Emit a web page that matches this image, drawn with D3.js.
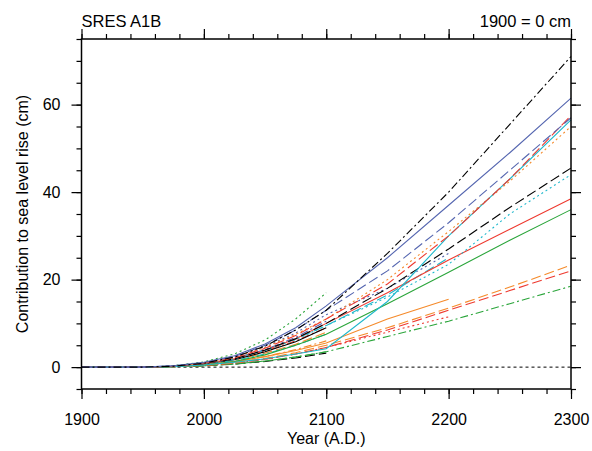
<!DOCTYPE html>
<html>
<head>
<meta charset="utf-8">
<script src="https://cdn.jsdelivr.net/npm/d3@7"></script>
<style>
  body { margin: 0; background: #fff; }
  text { font-family: "Liberation Sans", Arial, Helvetica, sans-serif; }
</style>
</head>
<body>
<div id="chart"></div>
<script>
var years = [1900, 1950, 1975, 2000, 2025, 2050, 2075, 2100, 2150, 2200, 2250, 2300];

// models running to 2300
var blackDashDot = [0, 0, 0.2, 0.9, 2.3, 4.8, 8.5, 13, 26, 40, 55.5, 71];
var blueSolid    = [0, 0, 0.3, 1.1, 2.6, 5.3, 9, 14, 25, 37, 49, 61.5];
var blueDash     = [0, 0, 0.3, 1, 2.4, 5, 8.5, 13, 22, 33, 45, 57];
var redDash      = [0, 0, 0.2, 0.9, 2.1, 4.3, 7.2, 11, 19, 30, 43, 57.5];
var cyanSolid    = [0, 0, 0.1, 0.5, 1.1, 1.9, 3, 4.2, 15, 30, 43, 56.5];
var orangeDot    = [0, 0, 0.2, 0.9, 2.2, 4.5, 7.5, 11, 20, 31, 42.5, 55];
var blackDash    = [0, 0, 0.2, 0.8, 1.9, 3.9, 6.5, 10, 18, 27, 36.5, 45.5];
var cyanDot      = [0, 0, 0.2, 0.8, 1.9, 3.8, 6.3, 9.5, 16, 23.5, 35, 44];
var redSolid     = [0, 0, 0.2, 0.8, 1.9, 3.8, 6.5, 10, 17, 24.5, 31.5, 38.5];
var greenSolid   = [0, 0, 0.1, 0.5, 1.3, 2.8, 5, 7.5, 14.5, 21.7, 29, 36];
var orangeDash   = [0, 0, 0.1, 0.4, 1, 2, 3.3, 5, 9, 13.5, 18.3, 23.3];
var redDash2     = [0, 0, 0.1, 0.4, 0.9, 1.8, 3, 4.5, 8.5, 13, 17.5, 22];
var greenDashDot = [0, 0, 0.1, 0.3, 0.7, 1.4, 2.3, 3.5, 7, 10.5, 14.5, 18.5];

// models running to 2200
var orangeSolid  = [0, 0, 0.1, 0.5, 1.2, 2.4, 3.8, 5.5, 11, 15.5];
var redDot       = [0, 0, 0.1, 0.4, 0.9, 1.8, 3, 4.5, 8, 11.5];
var blueDot      = [0, 0, 0.3, 1, 2.3, 4.6, 7.8, 12, 18, 26];
var cyanDash     = [0, 0, 0.2, 0.8, 1.9, 3.8, 6.4, 9.5, 16.5, 25];

// models running to 2100
var greenDot      = [0, 0, 0.3, 1.2, 3, 6.2, 11, 17];
var redDashDot    = [0, 0, 0.2, 0.8, 1.8, 3.6, 6, 9];
var orangeDash2   = [0, 0, 0.2, 0.7, 1.6, 3.2, 5.2, 8];
var blackSolid    = [0, 0, 0.2, 0.7, 1.7, 3.5, 5.8, 9];
var blackDot      = [0, 0, 0.1, 0.3, 0.7, 1.3, 2.1, 3.2];
var greenDash     = [0, 0, 0.1, 0.3, 0.7, 1.4, 2.3, 3.5];
var blueDashDot   = [0, 0, 0.2, 0.8, 2, 4, 6.8, 10.5];
var cyanDashDot   = [0, 0, 0.2, 0.7, 1.5, 3, 5, 7.5];
var orangeDashDot = [0, 0, 0.1, 0.5, 1.2, 2.4, 4, 6];

var xMajor = [1900, 2000, 2100, 2200, 2300];
var yMajor = [0, 20, 40, 60];

var black = "#000", blue = "#5566b0", cyan = "#1fb8cc", red = "#ee3a30",
    orange = "#f58a2a", green = "#2aa53a";
var solid = null, dash = "10,4", dot = "2,3", dashDot = "8,3,2,3";

var models = [
  [greenDot, green, dot], [redDashDot, red, dashDot], [orangeDash2, orange, dash],
  [blackSolid, black, solid], [blackDot, black, dash], [greenDash, green, dash],
  [blueDashDot, blue, dashDot], [cyanDashDot, cyan, dashDot], [orangeDashDot, orange, dashDot],
  [orangeSolid, orange, solid], [redDot, red, dot], [blueDot, blue, dot], [cyanDash, cyan, dash],
  [greenDashDot, green, dashDot], [redDash2, red, dash], [orangeDash, orange, dash],
  [greenSolid, green, solid], [redSolid, red, solid], [cyanDot, cyan, dot],
  [blackDash, black, dash], [orangeDot, orange, dot], [cyanSolid, cyan, solid],
  [redDash, red, dash], [blueDash, blue, dash], [blueSolid, blue, solid],
  [blackDashDot, black, dashDot]
];

var width = 592, height = 451;
var plotLeft = 81.5, plotRight = 571, plotTop = 39, plotBottom = 389;

var svg = d3.select("#chart").append("svg")
    .attr("width", width).attr("height", height);

var x = d3.scaleLinear().domain([1900, 2300]).range([plotLeft, plotRight]);
var y = d3.scaleLinear().domain([-5, 75]).range([plotBottom, plotTop]);

var line = d3.line()
    .x(function(d, i) { return x(years[i]); })
    .y(function(d) { return y(d); });

// zero reference
svg.append("line")
    .attr("x1", x(1900)).attr("x2", x(2300))
    .attr("y1", y(0)).attr("y2", y(0))
    .attr("stroke", "#000").attr("stroke-width", 1)
    .attr("stroke-dasharray", "3,3");

svg.append("g").selectAll("path")
    .data(models)
    .enter().append("path")
    .attr("d", function(m) { return line(m[0]); })
    .attr("fill", "none")
    .attr("stroke", function(m) { return m[1]; })
    .attr("stroke-width", 1.1)
    .attr("stroke-dasharray", function(m) { return m[2]; });

// axes, ticks outward on all four sides
var xMinor = d3.range(1900, 2301, 20);
var yMinor = d3.range(-5, 76, 5);

function ticks(axis, vals, size, labels) {
  return axis.tickValues(vals).tickSize(size).tickSizeOuter(0)
      .tickFormat(labels ? d3.format("d") : "");
}

var gb = svg.append("g").attr("transform", "translate(0," + plotBottom + ")");
gb.call(ticks(d3.axisBottom(x), xMinor, 5, false));
gb.append("g").call(ticks(d3.axisBottom(x), xMajor, 10, true));

var gt = svg.append("g").attr("transform", "translate(0," + plotTop + ")");
gt.call(ticks(d3.axisTop(x), xMinor, 5, false));
gt.append("g").call(ticks(d3.axisTop(x), xMajor, 10, false));

var gl = svg.append("g").attr("transform", "translate(" + plotLeft + ",0)");
gl.call(ticks(d3.axisLeft(y), yMinor, 5, false));
gl.append("g").call(ticks(d3.axisLeft(y), yMajor, 10, true));

var gr = svg.append("g").attr("transform", "translate(" + plotRight + ",0)");
gr.call(ticks(d3.axisRight(y), yMinor, 5, false));
gr.append("g").call(ticks(d3.axisRight(y), yMajor, 10, false));

svg.selectAll(".domain").remove();
svg.selectAll(".tick line").attr("stroke", "#000").attr("stroke-width", 1.2);
svg.selectAll(".tick text").attr("font-size", 16).attr("fill", "#000")
    .attr("font-family", "Liberation Sans, Arial, sans-serif");
gb.selectAll(".tick text").attr("dy", "1.45em");
gl.selectAll(".tick text").attr("dx", "-0.5em");

svg.append("rect")
    .attr("x", plotLeft).attr("y", plotTop)
    .attr("width", plotRight - plotLeft).attr("height", plotBottom - plotTop)
    .attr("fill", "none").attr("stroke", "#000").attr("stroke-width", 1.5);

svg.append("text").attr("x", plotLeft).attr("y", 27)
    .attr("font-size", 16.5).text("SRES A1B");
svg.append("text").attr("x", plotRight).attr("y", 27)
    .attr("text-anchor", "end").attr("font-size", 16.5).text("1900 = 0 cm");

svg.append("text").attr("x", (plotLeft + plotRight) / 2).attr("y", 444)
    .attr("text-anchor", "middle").attr("font-size", 16).text("Year (A.D.)");
svg.append("text")
    .attr("transform", "translate(28," + (plotTop + plotBottom) / 2 + ") rotate(-90)")
    .attr("text-anchor", "middle").attr("font-size", 16)
    .text("Contribution to sea level rise (cm)");
</script>
</body>
</html>
